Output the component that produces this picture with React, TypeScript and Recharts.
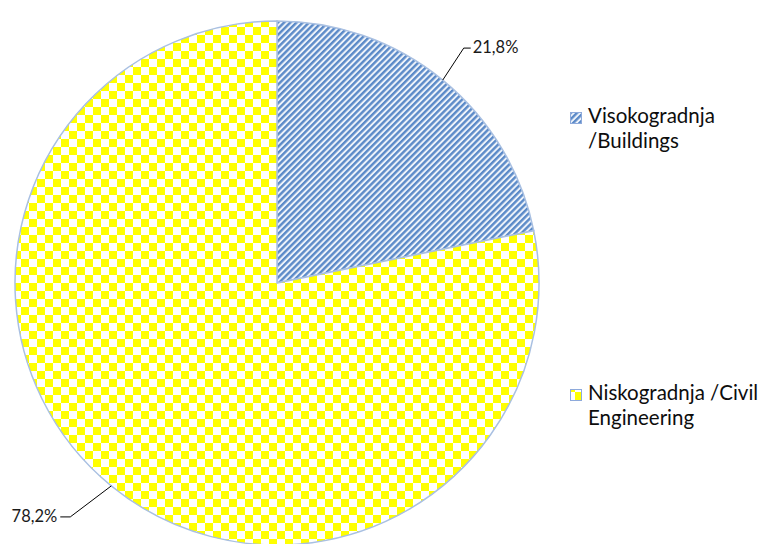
import React from 'react';
import { PieChart, Pie, Cell, Legend } from 'recharts';

const categories = ['Visokogradnja /Buildings', 'Niskogradnja /Civil Engineering'];
const legendLines = [['Visokogradnja', '/Buildings'], ['Niskogradnja /Civil', 'Engineering']];
const values = [21.8, 78.2];
const labels = ['21,8%', '78,2%'];
const fills = ['url(#stripes)', 'url(#checks)'];

const data = categories.map((name, i) => ({ name, value: values[i], label: labels[i] }));

const RAD = Math.PI / 180;
const leaderOffsets = [
  { dx: 21, dy: -32, h: 7 },
  { dx: -41, dy: 31, h: -10 },
];

const renderLabel = (props: any) => {
  const { cx, cy, midAngle, outerRadius, index } = props;
  const sx = cx + outerRadius * Math.cos(-midAngle * RAD);
  const sy = cy + outerRadius * Math.sin(-midAngle * RAD);
  const o = leaderOffsets[index];
  const mx = sx + o.dx;
  const my = sy + o.dy;
  const right = o.h > 0;
  const ex = mx + o.h;
  const tx = ex + (right ? 2 : -3);
  return (
    <g key={`lbl-${index}`}>
      <polyline points={`${sx},${sy} ${mx},${my} ${ex},${my}`} fill="none" stroke="#000" strokeWidth={1} />
      <text x={tx} y={my + 5} textAnchor={right ? 'start' : 'end'} fontFamily="Lato, sans-serif" fontSize={16.5} fill="#1a1a1a">
        {data[index].label}
      </text>
    </g>
  );
};

const legendTops = [103, 380];

const renderLegend = () => (
  <div style={{ position: 'relative', width: 210, height: 440, fontFamily: 'Lato, sans-serif', fontSize: 20.5, color: '#0d0d0d' }}>
    {legendLines.map((lines, i) => (
      <div key={i} style={{ position: 'absolute', left: 0, top: legendTops[i], lineHeight: '25px' }}>
        <svg width={12} height={12} style={{ position: 'absolute', left: 0, top: 9 }}>
          <rect x={0.5} y={0.5} width={11} height={11} fill={fills[i]} stroke="#8EAADB" strokeWidth={1} />
        </svg>
        <div style={{ marginLeft: 18, whiteSpace: 'nowrap' }}>
          {lines.map((l, j) => (
            <div key={j}>{l}</div>
          ))}
        </div>
      </div>
    ))}
  </div>
);

export default function App() {
  return (
    <div style={{ position: 'absolute', left: 0, top: 0, width: 774, height: 544, background: '#fff', overflow: 'hidden' }}>
      <svg width={0} height={0} style={{ position: 'absolute' }}>
        <defs>
          <pattern id="stripes" patternUnits="userSpaceOnUse" width={4.4} height={4.4} patternTransform="rotate(45)">
            <rect x={0} y={0} width={4.4} height={4.4} fill="#EEF3FA" />
            <rect x={0} y={0} width={2.4} height={4.4} fill="#5B8AC8" />
          </pattern>
          <pattern id="checks" patternUnits="userSpaceOnUse" width={16} height={16} x={5} y={3}>
            <rect x={0} y={0} width={16} height={16} fill="#FFFFFF" />
            <rect x={0} y={0} width={8} height={8} fill="#FFFF00" />
            <rect x={8} y={8} width={8} height={8} fill="#FFFF00" />
          </pattern>
        </defs>
      </svg>
      <PieChart width={774} height={544} margin={{ top: 0, right: 0, bottom: 0, left: 0 }}>
        <Pie
          data={data}
          dataKey="value"
          nameKey="name"
          cx={277}
          cy={283}
          outerRadius={262}
          startAngle={90}
          endAngle={-270}
          stroke="#A9C0E2"
          strokeWidth={1.5}
          isAnimationActive={false}
          label={renderLabel}
          labelLine={false}
        >
          {data.map((d, i) => (
            <Cell key={d.name} fill={fills[i]} />
          ))}
        </Pie>
        <Legend
          content={renderLegend}
          layout="vertical"
          verticalAlign="top"
          align="right"
          wrapperStyle={{ position: 'absolute', left: 570, top: 0, width: 210 }}
        />
      </PieChart>
    </div>
  );
}
